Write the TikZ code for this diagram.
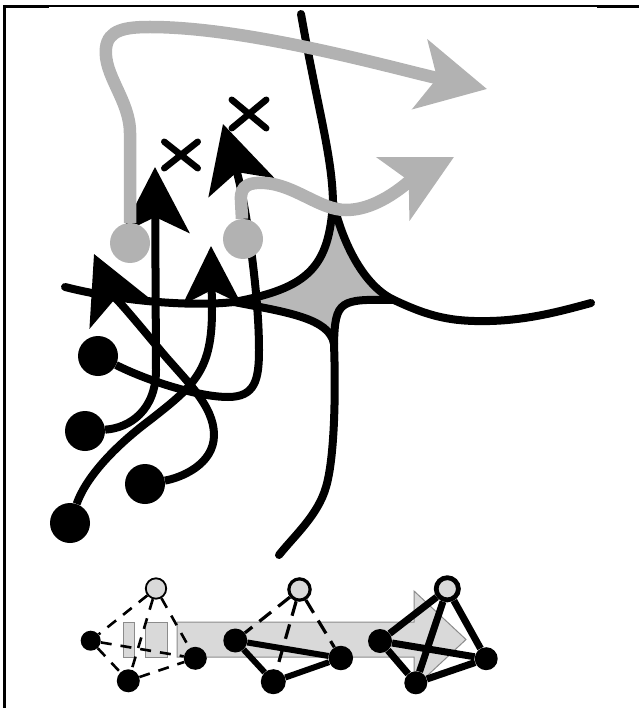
\documentclass[tikz,border=0pt]{standalone}
\usetikzlibrary{arrows.meta,shapes.misc}
\begin{document}
\begin{tikzpicture}[x=1pt, y=-1pt,
	bd/.style = {circle, fill=black, inner sep=0pt, minimum size=40pt},
	gd/.style = {circle, fill=black!30, inner sep=0pt, minimum size=40pt},
	xm/.style = {cross out, draw=black, line width=6.5pt, line cap=round, inner sep=0pt},
	cv/.style = {line width=8pt, line cap=round},
	ba/.style = {line width=8pt, -{Stealth[length=66pt, width=68pt, inset=16pt]}},
	ga/.style = {draw=black!30, line width=12.5pt, -{Stealth[length=68pt, width=70pt, inset=17pt]}},
	sn/.style = {circle, fill=black, inner sep=0pt},
	hn/.style = {circle, draw=black, fill=black!15, inner sep=0pt},
	dl/.style = {dash pattern=on 11pt off 9pt},
	pl/.style = {fill=black!15, draw=black!45, line width=1pt}
	]
	\useasboundingbox (0,0) rectangle (639,708);
	
	%Frame
	\draw[line width=2.2pt]	(4,6)	--	(639,6);
	\draw[line width=2.8pt]	(4,6.3)	--	(49,6.3)	(597,6.3)	--	(639,6.3);
	\draw[line width=2.7pt]	(4.3,5)	--	(4.3,708);
	
	%Curves
	\coordinate	(T)		at	(333,202);
	\coordinate	(L)		at	(234,302);
	\coordinate	(R)		at	(394,300);
	\coordinate	(B)		at	(334,344);
	\coordinate	(cN)	at	(301,14);
	\coordinate	(cW)	at	(65,287);
	\coordinate	(cE)	at	(591,303);
	\coordinate	(cS)	at	(279,555);
	
	\fill[black!28]	(T) .. controls (329,268) and (308,288) .. (L) .. controls (285,312) and (330,318) .. (B)
		.. controls (335,300) and (340,299) .. (R) .. controls (368,288) and (345,252) .. (T) -- cycle;
	\draw[cv]	(cN) .. controls (318,110) and (332,155) .. (T) .. controls (329,268) and (308,288) .. (L)
		.. controls (190,307) and (120,301) .. (cW);
	\draw[cv]	(T) .. controls (345,252) and (368,288) .. (R) .. controls (428,316) and (450,322) .. (490,321)
		.. controls (530,320) and (565,310) .. (cE);
	\draw[cv]	(L) .. controls (285,312) and (330,318) .. (B) .. controls (336,400) and (334,460) .. (326,487)
		.. controls (318,515) and (295,535) .. (cS);
	\draw[cv]	(B) .. controls (335,300) and (340,299) .. (R);
	
	%Nodes
	\node[bd]	(d1)	at	(98,356)	{};
	\node[bd]	(d2)	at	(85,431)	{};
	\node[bd]	(d3)	at	(145,484)	{};
	\node[bd]	(d4)	at	(70,523)	{};
	
	\coordinate	(tA)	at	(155,167);
	\coordinate	(tB)	at	(223,124);
	\coordinate	(tC)	at	(211,246);
	\coordinate	(tD)	at	(94,254);
	
	\node[xm, minimum width=27pt, minimum height=20pt]	(x1)	at	(181,155)	{};
	\node[xm, minimum width=28pt, minimum height=22pt]	(x2)	at	(249,114)	{};
	
	%Lines
	\draw[ba]	(d2) .. controls (130,428) and (156,410) .. (156,370) -- (tA);
	\draw[ba]	(d1) .. controls (150,382) and (200,397) .. (228,397) .. controls (255,397) and (259,380) .. (259,350)
		.. controls (259,290) and (245,200) .. (tB);
	\draw[line width=8pt, -{Stealth[length=58pt, width=58pt, inset=14pt]}]
		(d4) .. controls (85,480) and (110,450) .. (150,420) .. controls (195,385) and (212,370) .. (212,310) -- (tC);
	\draw[ba]	(d3) .. controls (180,478) and (214,465) .. (214,435) .. controls (214,405) and (185,380) .. (160,350)
		.. controls (135,320) and (110,290) .. (tD);
	
	%Nodes
	\node[gd]	(g1)	at	(130,243)	{};
	\node[gd]	(g2)	at	(243,239)	{};
	\coordinate	(tG1)	at	(487,89);
	\coordinate	(tG2)	at	(454,157);
	
	%Lines
	\draw[ga]	(g1) -- (130,133) .. controls (130,100) and (103,75) .. (106,48) .. controls (108,30) and (125,27) .. (150,27)
		.. controls (250,27) and (400,70) .. (tG1);
	\draw[ga]	(g2) -- (241,200) .. controls (240,185) and (250,182) .. (265,183) .. controls (295,185) and (320,210) .. (346,210)
		.. controls (380,210) and (410,180) .. (tG2);
	
	%Shift arrow
	\draw[pl]	(123,622) rectangle (134,657);
	\draw[pl]	(145,622) rectangle (167,657);
	\draw[pl]	(177,622) -- (414,622) -- (414,591) -- (466,639.5) -- (414,688) -- (414,657) -- (177,657) -- cycle;
	
	%Nodes
	\node[hn, line width=1.8pt, minimum size=20.4pt]	(h1)	at	(156,588.5)		{};
	\node[sn, minimum size=20pt]	(a1)	at	(90.7,640.7)	{};
	\node[sn, minimum size=23pt]	(a2)	at	(128.3,680.8)	{};
	\node[sn, minimum size=23pt]	(a3)	at	(195.3,658.3)	{};
	
	\node[hn, line width=3.2pt, minimum size=21.3pt]	(h2)	at	(299.5,589.5)	{};
	\node[sn, minimum size=24pt]	(m1)	at	(235.3,640.5)	{};
	\node[sn, minimum size=24.5pt]	(m2)	at	(340.8,658)		{};
	\node[sn, minimum size=25pt]	(m3)	at	(273.3,681.7)	{};
	
	\node[hn, line width=4.8pt, minimum size=22.2pt]	(h3)	at	(447.3,588.8)	{};
	\node[sn, minimum size=24pt]	(k1)	at	(380,641)		{};
	\node[sn, minimum size=23pt]	(k2)	at	(486.2,658.7)	{};
	\node[sn, minimum size=23pt]	(k3)	at	(415.8,682.8)	{};
	
	%Lines
	\draw[dl, line width=2.6pt]	(h1) -- (a1)	(h1) -- (a2)	(h1) -- (a3)	(a1) -- (a2)	(a1) -- (a3)	(a2) -- (a3);
	
	\draw[dash pattern=on 15pt off 9pt, line width=3.2pt]	(h2) -- (m1)	(h2) -- (m3)	(h2) -- (m2);
	\draw[line width=6pt]	(m1) -- (m2)	(m1) -- (m3)	(m3) -- (m2);
	
	\draw[line width=7pt]	(h3) -- (k1)	(h3) -- (k2)	(h3) -- (k3)	(k1) -- (k2)	(k1) -- (k3)	(k3) -- (k2);
\end{tikzpicture}
\end{document}
